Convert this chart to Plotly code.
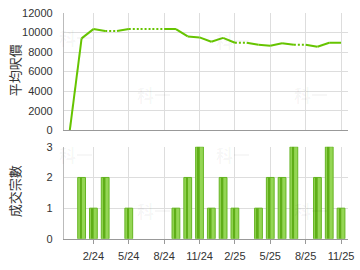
import plotly.graph_objects as go

months = ["12/23", "1/24", "2/24", "3/24", "4/24", "5/24", "6/24", "7/24", "8/24",
          "9/24", "10/24", "11/24", "12/24", "1/25", "2/25", "3/25", "4/25", "5/25",
          "6/25", "7/25", "8/25", "9/25", "10/25", "11/25"]
avg_price = [0, 9400, 10350, 10150, 10150, 10350, 10350, 10350, 10350,
             10350, 9600, 9500, 9050, 9450, 8950, 8950, 8750, 8650,
             8900, 8750, 8750, 8550, 8950, 8950]
counts = [0, 2, 1, 2, 0, 1, 0, 0, 0,
          1, 2, 3, 1, 2, 1, 0, 1, 2,
          2, 3, 0, 2, 3, 1]
tick_labels = ["2/24", "5/24", "8/24", "11/24", "2/25", "5/25", "8/25", "11/25"]

idx = list(range(len(months)))
tick_idx = [months.index(t) for t in tick_labels]
bar_vals = [c if c > 0 else None for c in counts]

# Build solid / dotted segments: dotted where the segment ends at a month without data
sx, sy, dx, dy = [], [], [], []
for i in range(len(months) - 1):
    if counts[i + 1] == 0:
        dx += [idx[i], idx[i + 1], None]
        dy += [avg_price[i], avg_price[i + 1], None]
    else:
        sx += [idx[i], idx[i + 1], None]
        sy += [avg_price[i], avg_price[i + 1], None]

GREEN = "#66c400"
fig = go.Figure()
fig.add_trace(go.Scatter(x=sx, y=sy, mode="lines", line=dict(color=GREEN, width=2),
                         xaxis="x", yaxis="y", showlegend=False, hoverinfo="skip"))
fig.add_trace(go.Scatter(x=dx, y=dy, mode="lines",
                         line=dict(color=GREEN, width=2, dash="2px,2px"),
                         xaxis="x", yaxis="y", showlegend=False, hoverinfo="skip"))

fig.add_trace(go.Bar(x=idx, y=bar_vals, width=0.66, marker=dict(color="#94d654",
                     line=dict(color="#66b524", width=1)),
                     xaxis="x2", yaxis="y2", showlegend=False))
fig.add_trace(go.Bar(x=idx, y=bar_vals, width=0.16, offset=-0.14,
                     marker=dict(color="#5fae18", line=dict(width=0)),
                     xaxis="x2", yaxis="y2", showlegend=False))

xr = [-0.5, 23.6]
W, H = 360, 270
xd = [65 / W, 354 / W]
grid = "#dddddd"
axisc = "#999999"
tickfont = dict(family="Liberation Sans, Arial", size=11, color="#333333")

fig.update_layout(
    width=W, height=H, margin=dict(l=0, r=0, t=0, b=0),
    paper_bgcolor="white", plot_bgcolor="white", barmode="overlay",
    xaxis=dict(domain=xd, range=xr, anchor="y", tickvals=tick_idx, showticklabels=False,
               showgrid=True, gridcolor=grid, showline=True, linecolor=axisc,
               zeroline=False, ticks=""),
    yaxis=dict(domain=[1 - 130 / H, 1 - 7.3 / H], range=[0, 12000], dtick=2000,
               tickformat="d",
               showgrid=True, gridcolor=grid, showline=True, linecolor="#bbbbbb",
               zeroline=False, tickfont=tickfont, ticklabelstandoff=8),
    xaxis2=dict(domain=xd, range=xr, anchor="y2", tickvals=tick_idx, ticktext=tick_labels,
                showgrid=True, gridcolor=grid, showline=True, linecolor=axisc,
                zeroline=False, ticks="outside", ticklen=4, tickcolor=axisc,
                tickfont=tickfont, ticklabeloverflow="allow", ticklabelstandoff=3),
    yaxis2=dict(domain=[1 - 243.7 / H, 1 - 147.3 / H], range=[0, 3], dtick=1,
                showgrid=True, gridcolor=grid, showline=True, linecolor="#bbbbbb",
                zeroline=False, tickfont=tickfont, ticklabelstandoff=8),
)

cjk = dict(family="Noto Sans CJK TC", size=13, color="#333333")
fig.add_annotation(text="平均呎價", x=15 / W, y=1 - 67.5 / H, xref="paper", yref="paper",
                   xanchor="center", yanchor="middle",
                   textangle=-90, showarrow=False, font=cjk)
fig.add_annotation(text="成交宗數", x=15 / W, y=1 - 194 / H, xref="paper", yref="paper",
                   xanchor="center", yanchor="middle",
                   textangle=-90, showarrow=False, font=cjk)

wm = dict(family="Noto Sans CJK TC", size=17, color="rgba(0,0,0,0.04)")
for (px, py) in [(77, 33), (157, 93), (237, 36), (316, 93),
                 (77, 155), (157, 214), (237, 155), (316, 214)]:
    fig.add_annotation(text="<b>科一</b>", x=px / W, y=1 - py / H, xref="paper",
                       yref="paper", xanchor="center", yanchor="middle",
                       showarrow=False, font=wm)

fig.write_html("out.html")
